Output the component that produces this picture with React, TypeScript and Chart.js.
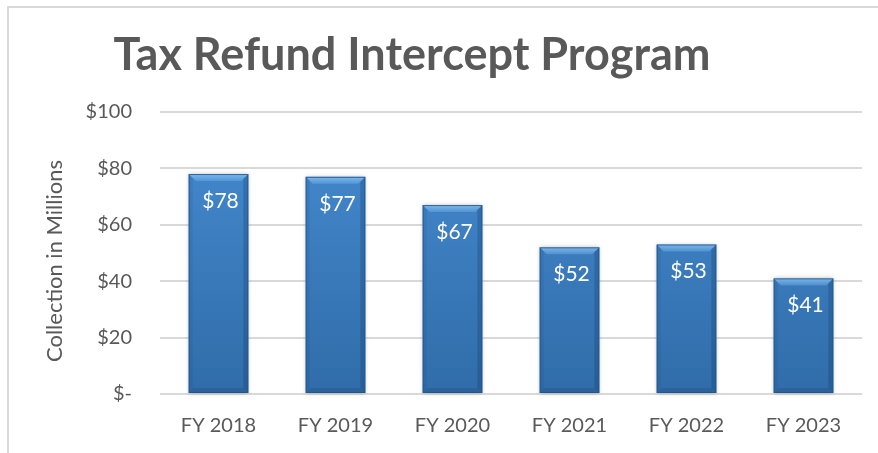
import React, { useEffect, useRef } from "react";
import { Chart, registerables } from "chart.js";

Chart.register(...registerables);

const categories = ["FY 2018", "FY 2019", "FY 2020", "FY 2021", "FY 2022", "FY 2023"];
const collections = [78, 77, 67, 52, 53, 41];
const titleText = "Tax Refund Intercept Program";
const yAxisTitle = "Collection in Millions";

const W = 878;
const H = 453;
const FONT = "Lato, 'Open Sans', sans-serif";

const fmt = (v: number) => (v === 0 ? "$-" : "$" + v);

const decorPlugin = {
  id: "decor",
  beforeDraw(chart: any) {
    const ctx = chart.ctx;
    ctx.save();
    ctx.fillStyle = "#ffffff";
    ctx.fillRect(0, 0, chart.width, chart.height);
    ctx.strokeStyle = "#d9d9d9";
    ctx.lineWidth = 2;
    ctx.beginPath();
    ctx.moveTo(8, chart.height + 2);
    ctx.lineTo(8, 7);
    ctx.lineTo(chart.width + 2, 7);
    ctx.stroke();
    // title
    ctx.fillStyle = "#595959";
    ctx.font = "bold 45px " + FONT;
    ctx.textAlign = "center";
    ctx.textBaseline = "middle";
    ctx.fillText(titleText, 412, 55);
    // y axis title
    ctx.translate(55, 261);
    ctx.rotate(-Math.PI / 2);
    ctx.font = "22px " + FONT;
    ctx.fillText(yAxisTitle, 0, 0);
    ctx.restore();
  },
  beforeDatasetsDraw(chart: any) {
    const ctx = chart.ctx;
    const meta = chart.getDatasetMeta(0);
    ctx.save();
    ctx.shadowColor = "rgba(0,0,0,0.25)";
    ctx.shadowBlur = 4;
    ctx.shadowOffsetX = 0;
    ctx.shadowOffsetY = 0;
    ctx.fillStyle = "#ffffff";
    meta.data.forEach((bar: any) => {
      const w = bar.width;
      ctx.fillRect(bar.x - w / 2, bar.y, w, bar.base - bar.y);
    });
    ctx.restore();
  },
  afterDatasetsDraw(chart: any) {
    const ctx = chart.ctx;
    const meta = chart.getDatasetMeta(0);
    const ds = chart.data.datasets[0];
    ctx.save();
    meta.data.forEach((bar: any, i: number) => {
      const w = bar.width;
      const l = bar.x - w / 2;
      const r = bar.x + w / 2;
      const t = bar.y;
      const b = bar.base;
      const bv = 7;
      // top bevel
      const tg = ctx.createLinearGradient(0, t, 0, t + bv);
      tg.addColorStop(0, "rgba(150,205,250,0.75)");
      tg.addColorStop(1, "rgba(120,185,240,0.35)");
      ctx.fillStyle = tg;
      ctx.beginPath();
      ctx.moveTo(l, t);
      ctx.lineTo(r, t);
      ctx.lineTo(r - bv, t + bv);
      ctx.lineTo(l + bv, t + bv);
      ctx.closePath();
      ctx.fill();
      // left bevel
      ctx.fillStyle = "rgba(20,60,110,0.1)";
      ctx.beginPath();
      ctx.moveTo(l, t);
      ctx.lineTo(l + 4, t + 4);
      ctx.lineTo(l + 4, b - 4);
      ctx.lineTo(l, b);
      ctx.closePath();
      ctx.fill();
      // right bevel
      ctx.fillStyle = "rgba(10,40,80,0.22)";
      ctx.beginPath();
      ctx.moveTo(r, t);
      ctx.lineTo(r - 5, t + 5);
      ctx.lineTo(r - 5, b - 5);
      ctx.lineTo(r, b);
      ctx.closePath();
      ctx.fill();
      // bottom bevel
      ctx.fillStyle = "rgba(10,40,80,0.14)";
      ctx.beginPath();
      ctx.moveTo(l, b);
      ctx.lineTo(r, b);
      ctx.lineTo(r - 5, b - 5);
      ctx.lineTo(l + 5, b - 5);
      ctx.closePath();
      ctx.fill();
      // outline
      ctx.strokeStyle = "rgba(35,85,140,0.85)";
      ctx.lineWidth = 1;
      ctx.strokeRect(l + 0.5, t + 0.5, w - 1, b - t - 1);
      // label
      ctx.fillStyle = "#ffffff";
      ctx.font = "21px " + FONT;
      ctx.textAlign = "center";
      ctx.textBaseline = "middle";
      ctx.fillText(fmt(ds.data[i]), bar.x + 2, t + 27);
    });
    ctx.restore();
  },
};

export default function App() {
  const ref = useRef<HTMLCanvasElement | null>(null);
  useEffect(() => {
    if (!ref.current) return;
    const chart = new Chart(ref.current, {
      type: "bar",
      data: {
        labels: categories,
        datasets: [
          {
            data: collections,
            backgroundColor: (c: any) => {
              const area = c.chart.chartArea;
              if (!area) return "#3b7fc4";
              const g = c.chart.ctx.createLinearGradient(0, area.top, 0, area.bottom);
              g.addColorStop(0, "#468cd2");
              g.addColorStop(1, "#306ca9");
              return g;
            },
            borderWidth: 0,
            barPercentage: 0.51,
            categoryPercentage: 1,
          },
        ],
      },
      options: {
        animation: false,
        responsive: false,
        maintainAspectRatio: false,
        layout: { padding: { left: 44, right: 16, top: 112, bottom: 0 } },
        plugins: {
          legend: { display: false },
          title: { display: false },
          tooltip: { enabled: false },
        },
        scales: {
          x: {
            grid: { display: false, drawTicks: false },
            border: { display: false },
            ticks: { color: "#595959", font: { family: FONT, size: 20 }, padding: 20 },
            afterFit: (s: any) => {
              s.height = 59;
            },
          },
          y: {
            min: 0,
            max: 100,
            ticks: {
              stepSize: 20,
              color: "#595959",
              font: { family: FONT, size: 20 },
              padding: 28,
              callback: (v: any) => fmt(Number(v)),
            },
            grid: { color: "#d9d9d9", lineWidth: 2, drawTicks: false },
            border: { display: false },
            title: { display: false },
            afterFit: (s: any) => {
              s.width = 116;
            },
          },
        },
      },
      plugins: [decorPlugin],
    });
    return () => chart.destroy();
  }, []);
  return (
    <div style={{ position: "absolute", left: 0, top: 0, width: W, height: H }}>
      <canvas ref={ref} width={W} height={H} style={{ width: W, height: H, display: "block" }} />
    </div>
  );
}
